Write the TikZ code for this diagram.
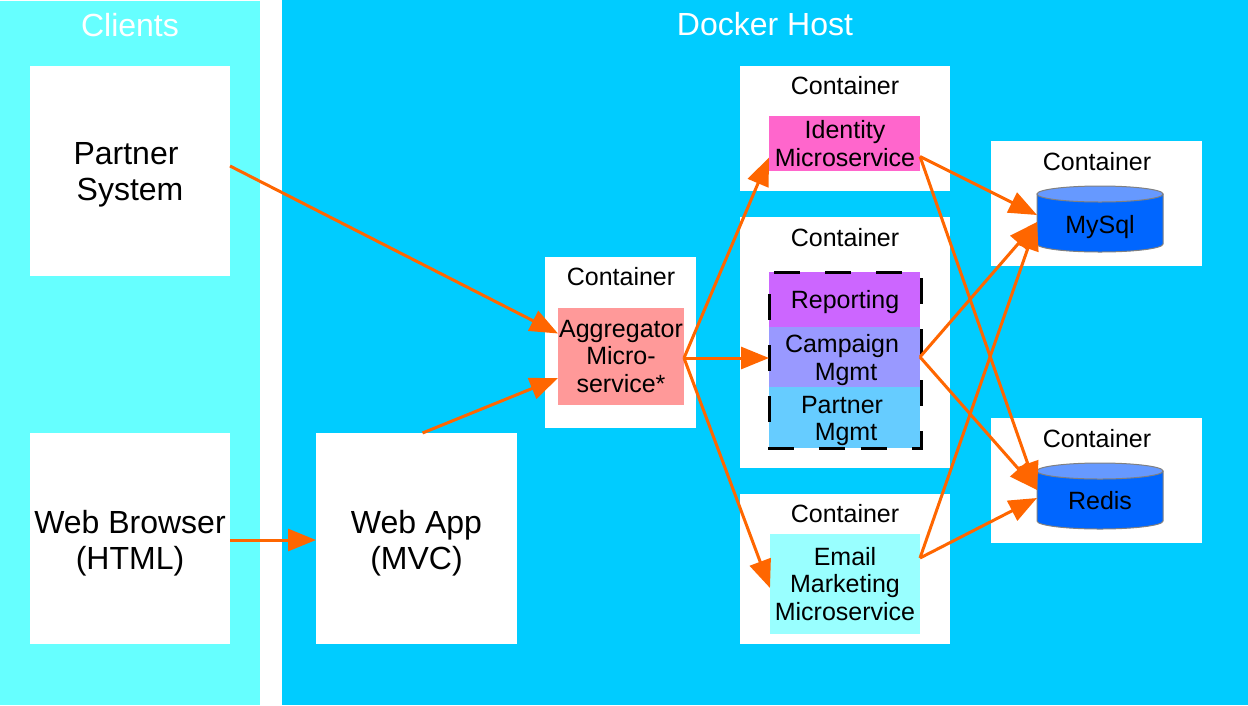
\documentclass[tikz,border=0pt]{standalone}
\usepackage{fontspec}
\setmainfont{Liberation Sans}
\usetikzlibrary{arrows.meta}
\definecolor{clientbg}{HTML}{66FFFF}
\definecolor{hostbg}{HTML}{00CCFF}
\definecolor{conn}{HTML}{FF6600}
\definecolor{dbside}{HTML}{0066FF}
\definecolor{dbtop}{HTML}{6699FF}
\definecolor{aggfill}{HTML}{FF9999}
\definecolor{idfill}{HTML}{FF66CC}
\definecolor{repfill}{HTML}{CC66FF}
\definecolor{campfill}{HTML}{9999FF}
\definecolor{partfill}{HTML}{66CCFF}
\definecolor{mailfill}{HTML}{99FFFF}
\newcommand{\boxat}[6]{\node[#1,minimum width=#5-#3,minimum height=#6-#4] (#2) at ({(#3+#5)/2},{(#4+#6)/2})}
\newcommand{\dbdraw}[1]{%
  \draw[dbbody] ([yshift=-8pt]#1.north west) -- ([yshift=8pt]#1.south west)
    arc[start angle=180,end angle=360,x radius=63pt,y radius=8pt]
    -- ([yshift=-8pt]#1.north east) -- cycle;
  \draw[dbend] ([yshift=-8pt]#1.north) ellipse [x radius=63pt,y radius=8pt];
}
\tikzset{
  x=1pt,y=-1pt,
  every node/.style={inner sep=0pt,outer sep=0pt,align=center,text=black},
  panel/.style={rectangle,fill=#1},
  whitebox/.style={rectangle,fill=white},
  bigtext/.style={font=\fontsize{32}{36}\selectfont},
  title/.style={font=\fontsize{32}{36}\selectfont,text=white},
  conlabel/.style={font=\fontsize{25}{27.5}\selectfont},
  svc/.style={rectangle,fill=#1,font=\fontsize{25}{27.5}\selectfont},
  dbarea/.style={rectangle},
  dbbody/.style={fill=dbside,draw=gray,line width=1pt},
  dbend/.style={fill=dbtop,draw=gray,line width=1pt},
  dashline/.style={draw=black,line width=3pt,dash pattern=on 26pt off 25pt},
  link/.style={draw=conn,line width=3pt,-{Triangle[length=28pt,width=22pt]}},
}
\begin{document}
\begin{tikzpicture}
\useasboundingbox (0,0) rectangle (1248,705);
\fill[white] (0,0) rectangle (1248,705);
\boxat{panel=clientbg}{clients}{0}{1}{260}{705}{};
\boxat{panel=hostbg}{host}{282}{0}{1248}{705}{};
\node[title] (clientstitle) at (130,25) {Clients};
\node[title] (hosttitle) at (765,24) {Docker Host};
\boxat{whitebox}{partner}{30}{66}{230}{276}{};
\node[bigtext] (partnertext) at (128,175) {Partner\hspace*{4pt}\\\hspace*{4pt}System};
\boxat{whitebox}{browser}{30}{433}{230}{644}{};
\node[bigtext] (browsertext) at (130,543) {Web Browser\\(HTML)};
\boxat{whitebox}{webapp}{316}{433}{517}{644}{};
\node[bigtext] (webapptext) at (416.5,543) {Web App\\(MVC)};
\boxat{whitebox}{cagg}{545}{257}{696}{428}{};
\node[conlabel] (lagg) at (621,277) {Container};
\boxat{svc=aggfill}{agg}{558}{308}{684}{405}{Aggregator\\Micro-\\service*};
\boxat{whitebox}{cid}{740}{66}{950}{191}{};
\node[conlabel] (lid) at (845,86) {Container};
\boxat{svc=idfill}{identity}{769}{116}{920}{171}{};
\node[conlabel] (identitytext) at (845,143.5) {Identity\\Microservice};
\boxat{whitebox}{cmid}{740}{217}{950}{468}{};
\node[conlabel] (lmid) at (845,238) {Container};
\boxat{svc=repfill}{reporting}{769}{272}{920}{327}{};
\node[conlabel] (reportingtext) at (845,302) {Reporting};
\boxat{svc=campfill}{campaign}{769}{327}{920}{387}{};
\node[conlabel] (campaigntext) at (842,360) {Campaign\\\hspace*{8pt}Mgmt};
\boxat{svc=partfill}{partnermgmt}{769}{387}{920}{448}{};
\node[conlabel] (partnermgmttext) at (842,421) {Partner\\\hspace*{8pt}Mgmt};
\coordinate (gnw) at (769,272);
\coordinate (gne) at (921,272);
\coordinate (gse) at (921,448);
\coordinate (gsw) at (769,448);
\coordinate (gs) at (845,448);
\coordinate (gw) at (769,358);
\draw[dashline,dash phase=46pt] (gnw) -- (gne) -- (gse) -- (gs);
\draw[dashline,dash phase=29pt] (gnw) -- (gsw) -- (gs);
\boxat{whitebox}{cmail}{740}{494}{950}{644}{};
\node[conlabel] (lmail) at (845,514) {Container};
\boxat{svc=mailfill}{email}{770}{534}{920}{634}{};
\node[conlabel] (emailtext) at (845,584) {Email\\Marketing\hspace*{8pt}\\Microservice};
\boxat{whitebox}{cmy}{991}{141}{1202}{266}{};
\node[conlabel] (lmy) at (1097,162) {Container};
\boxat{dbarea}{mysql}{1037}{186}{1163}{252}{};
\dbdraw{mysql}
\node[conlabel] (mysqltext) at (1100,227) {MySql};
\boxat{whitebox}{cre}{991}{418}{1202}{543}{};
\node[conlabel] (lre) at (1097,439) {Container};
\boxat{dbarea}{redis}{1037}{463}{1163}{529}{};
\dbdraw{redis}
\node[conlabel] (redistext) at (1100,501) {Redis};
% connectors
\draw[link] ([yshift=5pt]partner.east) -- ([yshift=23pt]agg.west);
\draw[link] ([yshift=-1.5pt]browser.east) -- ([yshift=-1.5pt]webapp.west);
\draw[link] ([xshift=6pt]webapp.north) -- ([yshift=-21.5pt]agg.west);
\draw[link] ([yshift=-1.5pt]agg.east) -- ([yshift=-14pt]identity.west);
\draw[link] ([yshift=-1.5pt]agg.east) -- (gw);
\draw[link] ([yshift=-1.5pt]agg.east) -- ([yshift=-4pt]email.west);
\draw[link] ([yshift=-13pt]identity.east) -- ([yshift=4pt]mysql.west);
\draw[link] ([yshift=-13pt]identity.east) -- ([yshift=6pt]redis.west);
\draw[link] (campaign.east) -- ([yshift=-3pt]mysql.west);
\draw[link] (campaign.east) -- ([yshift=6pt]redis.west);
\draw[link] ([yshift=26pt]email.east) -- ([yshift=-3pt]mysql.west);
\draw[link] ([yshift=26pt]email.east) -- ([yshift=-2pt]redis.west);
\end{tikzpicture}
\end{document}
